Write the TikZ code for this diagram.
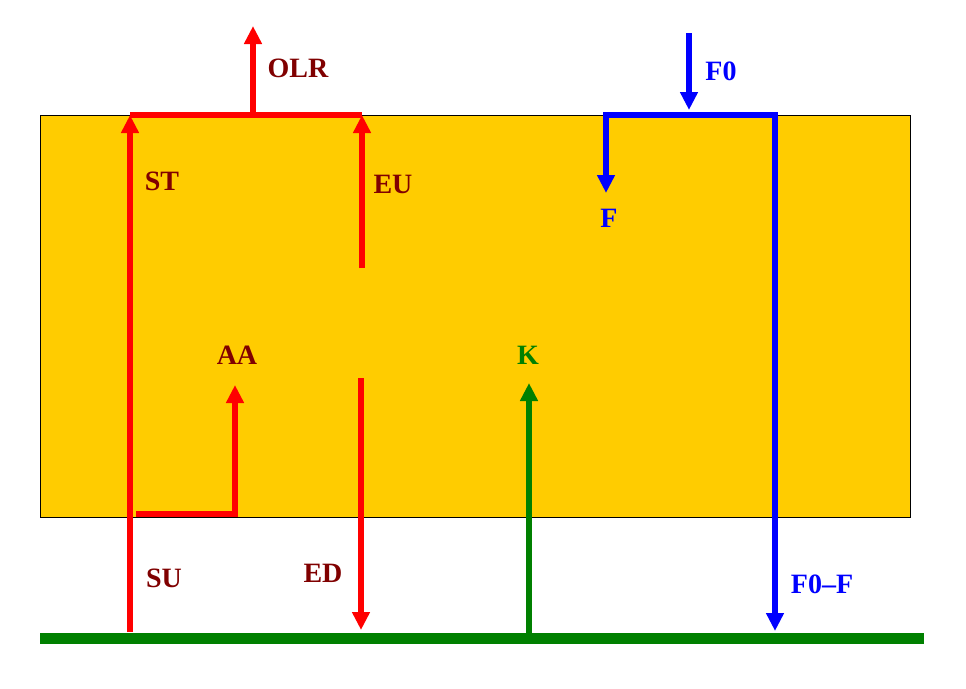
\documentclass[tikz,border=0pt]{standalone}
\usepackage{fontspec}
\setmainfont{Liberation Serif}
\usetikzlibrary{arrows.meta}
\definecolor{boxyellow}{HTML}{FFCC00}
\definecolor{lblred}{HTML}{800000}
\definecolor{flxred}{HTML}{FF0000}
\definecolor{flxblue}{HTML}{0000FF}
\definecolor{flxgreen}{HTML}{008000}
\begin{document}
\begin{tikzpicture}[x=1pt,y=-1pt,
  flux/.style={line width=5.5pt, line join=miter},
  tip/.style={-{Triangle[length=18pt,width=17pt]}},
  bothtips/.style={{Triangle[length=18pt,width=17pt]}-{Triangle[length=18pt,width=17pt]}},
  lbl/.style={font=\bfseries\fontsize{28}{30}\selectfont, anchor=base, inner sep=0pt},
]
\useasboundingbox (0,0) rectangle (966,688);
\fill[white] (0,0) rectangle (966,688);
\node[draw=black, line width=0.8pt, fill=boxyellow, minimum width=870pt, minimum height=402pt, inner sep=0pt, anchor=north west] (atm) at (40,115) {};

% coordinates
\coordinate (su0) at (130,632);
\coordinate (stTop) at (130,115);
\coordinate (eu1) at (362,115);
\coordinate (olr0) at (253,115);
\coordinate (olr1) at (253,26);
\coordinate (eu0) at (362,268);
\coordinate (ed0) at (361,378);
\coordinate (ed1) at (361,630);
\coordinate (aa0) at (136,514);
\coordinate (aa1) at (235,514);
\coordinate (aa2) at (235,385);
\coordinate (k0) at (529,633);
\coordinate (k1) at (529,383);
\coordinate (f00) at (689,33);
\coordinate (f01) at (689,110);
\coordinate (fl) at (606,115);
\coordinate (fr) at (775,115);
\coordinate (f1) at (606,193);
\coordinate (ff1) at (775,631);
\coordinate (g0) at (40,638);
\coordinate (g1) at (924,638);

% red fluxes
\draw[flux, flxred, tip] (su0) -- (stTop);
\draw[flux, flxred] (stTop) -- (eu1);
\draw[flux, flxred, tip] (olr0) -- (olr1);
\draw[flux, flxred, tip] (eu0) -- (eu1);
\draw[flux, flxred, tip] (ed0) -- (ed1);
\draw[flux, flxred, tip] (aa0) -- (aa1) -- (aa2);

% green
\draw[flux, flxgreen, tip] (k0) -- (k1);
\draw[line width=11pt, flxgreen] (g0) -- (g1);

% blue
\draw[flux, flxblue, tip] (f00) -- (f01);
\draw[flux, flxblue, bothtips] (f1) -- (fl) -- (fr) -- (ff1);

% labels
\node[lbl, lblred] (lolr) at (298,77) {OLR};
\node[lbl, lblred] (lst) at (162,190) {ST};
\node[lbl, lblred] (leu) at (393,193) {EU};
\node[lbl, lblred] (laa) at (237,364) {AA};
\node[lbl, flxgreen] (lk) at (528,364) {K};
\node[lbl, lblred] (lsu) at (164,587) {SU};
\node[lbl, lblred] (led) at (323,582) {ED};
\node[lbl, flxblue] (lf0) at (721,80) {F0};
\node[lbl, flxblue] (lf) at (609,227) {F};
\node[lbl, flxblue] (lf0f) at (822,593) {F0–F};
\end{tikzpicture}
\end{document}
